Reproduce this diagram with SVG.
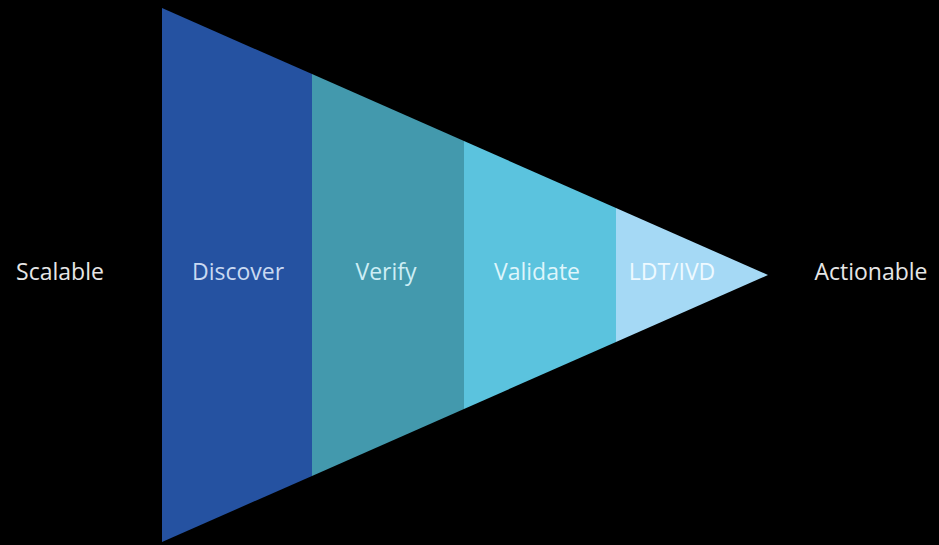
<svg xmlns="http://www.w3.org/2000/svg" width="939" height="545" viewBox="0 0 939 545">
<style>
.lbl{font-family:"Open Sans","Noto Sans",sans-serif;font-size:23px;text-anchor:middle}
.side{fill:#e6e6e6}
</style>
<rect width="939" height="545" fill="#000"/>
<g id="discover">
<polygon points="162,8 312,74.1 312,475.9 162,542" fill="#2552a1"/>
<text class="lbl" x="238" y="280" fill="#c9d9f1">Discover</text>
</g>
<g id="verify">
<polygon points="312,74.1 464,141 464,409 312,475.9" fill="#4399ad"/>
<text class="lbl" x="386" y="280" fill="#cdeef5">Verify</text>
</g>
<g id="validate">
<polygon points="464,141 616,208 616,342 464,409" fill="#5bc3de"/>
<text class="lbl" x="537" y="280" fill="#def5fb">Validate</text>
</g>
<g id="ldt">
<polygon points="616,208 768,275 616,342" fill="#a5d9f5"/>
<text class="lbl" x="672" y="280" fill="#eef9ff">LDT/IVD</text>
</g>
<g id="scalable"><text class="lbl side" x="60" y="280">Scalable</text></g>
<g id="actionable"><text class="lbl side" x="871" y="280">Actionable</text></g>
<g id="connectors"></g>
</svg>
